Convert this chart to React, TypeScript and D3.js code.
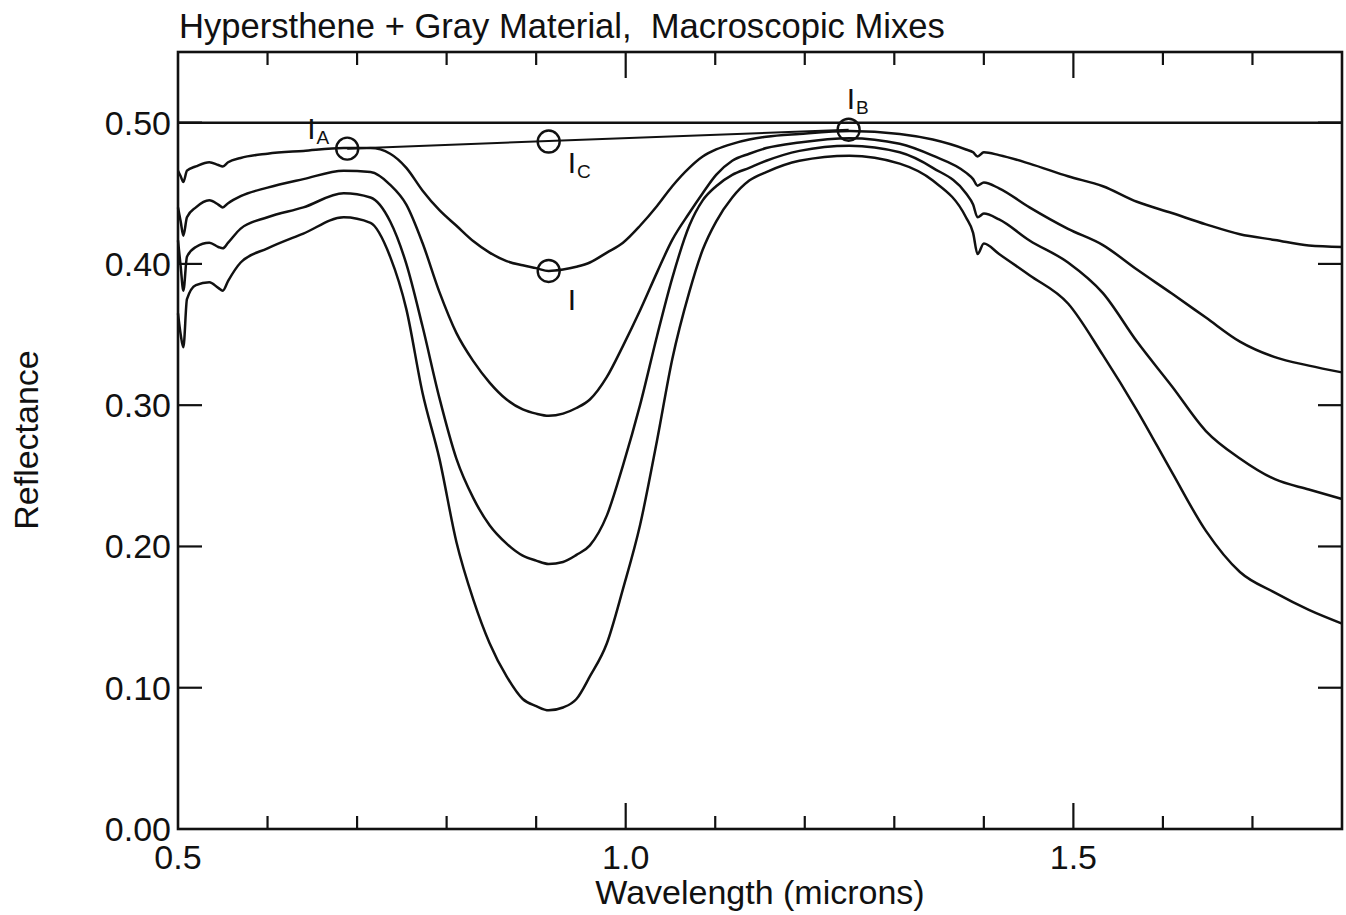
import * as d3 from "d3";

// wavelength grid (microns) shared by the four mixture spectra
const wavelengths = [
  0.5, 0.503, 0.506, 0.51, 0.52, 0.535, 0.545, 0.55, 0.556, 0.57, 0.6, 0.64, 0.685, 0.715,
  0.737, 0.755, 0.773, 0.792, 0.811, 0.83, 0.848, 0.867, 0.885, 0.9, 0.914, 0.93, 0.945,
  0.96, 0.979, 0.997, 1.016, 1.035, 1.052, 1.071, 1.086, 1.101, 1.119, 1.138, 1.157, 1.194,
  1.25, 1.306, 1.343, 1.38, 1.388, 1.393, 1.4, 1.417, 1.451, 1.494, 1.533, 1.571, 1.61,
  1.648, 1.686, 1.725, 1.763, 1.8,
];

const mixA = [
  0.466, 0.462, 0.458, 0.466, 0.469, 0.472, 0.47, 0.469, 0.472, 0.475, 0.478, 0.48, 0.482, 0.482,
  0.478, 0.468, 0.452, 0.438, 0.427, 0.416, 0.408, 0.402, 0.399, 0.397, 0.395, 0.396, 0.398,
  0.401, 0.408, 0.415, 0.427, 0.441, 0.455, 0.468, 0.476, 0.481, 0.485, 0.488, 0.49, 0.492,
  0.494, 0.492, 0.488, 0.481, 0.479, 0.476, 0.479, 0.477, 0.471, 0.462, 0.455, 0.444, 0.436,
  0.428, 0.421, 0.417, 0.413, 0.412,
];

const mixB = [
  0.44, 0.43, 0.42, 0.433, 0.44, 0.445, 0.442, 0.44, 0.443, 0.448, 0.454, 0.46, 0.466, 0.465,
  0.456, 0.442, 0.415, 0.38, 0.351, 0.331, 0.316, 0.304, 0.297, 0.294, 0.2925, 0.294, 0.298,
  0.304, 0.32, 0.342, 0.367, 0.394, 0.417, 0.436, 0.45, 0.463, 0.473, 0.478, 0.482, 0.486,
  0.489, 0.485, 0.4766, 0.4646, 0.46, 0.4554, 0.4576, 0.4535, 0.44, 0.4248, 0.4133, 0.396, 0.379,
  0.362, 0.345, 0.334, 0.328, 0.3232,
];

const mixC = [
  0.4166, 0.398, 0.381, 0.405, 0.412, 0.415, 0.412, 0.411, 0.415, 0.425, 0.433, 0.44, 0.45, 0.447,
  0.43, 0.4, 0.356, 0.305, 0.262, 0.234, 0.215, 0.202, 0.1935, 0.19, 0.1876, 0.189, 0.194,
  0.2008, 0.222, 0.2574, 0.3, 0.349, 0.39, 0.427, 0.445, 0.455, 0.463, 0.468, 0.473, 0.48,
  0.4837, 0.479, 0.468, 0.45, 0.442, 0.433, 0.4356, 0.4315, 0.4166, 0.401, 0.3793, 0.345, 0.3134,
  0.2817, 0.2623, 0.2476, 0.2403, 0.2336,
];

const mixD = [
  0.365, 0.35, 0.341, 0.375, 0.385, 0.387, 0.383, 0.381, 0.388, 0.401, 0.411, 0.4215, 0.433, 0.429,
  0.405, 0.368, 0.309, 0.262, 0.203, 0.162, 0.1315, 0.108, 0.092, 0.087, 0.084, 0.086, 0.092,
  0.108, 0.1315, 0.17, 0.215, 0.275, 0.3325, 0.38, 0.41, 0.43, 0.447, 0.459, 0.465, 0.473,
  0.4766, 0.471, 0.459, 0.433, 0.422, 0.407, 0.4144, 0.407, 0.392, 0.372, 0.3354, 0.2964, 0.2526,
  0.211, 0.1819, 0.1673, 0.1551, 0.1454,
];

const spectra = [mixA, mixB, mixC, mixD];

// band analysis points: label, subscript, wavelength, reflectance
const pointLabels = ["I", "I", "I", "I"];
const pointSubs = ["A", "C", "", "B"];
const pointWl = [0.689, 0.914, 0.914, 1.249];
const pointR = [0.4816, 0.4866, 0.395, 0.495];

const yTickValues = [0, 0.1, 0.2, 0.3, 0.4, 0.5];
const levelLine = 0.5;

const title = "Hypersthene + Gray Material,  Macroscopic Mixes";
const xTitle = "Wavelength (microns)";
const yTitle = "Reflectance";

export default function App() {
  const width = 1346;
  const height = 915;
  const margin = { top: 52, right: 4, bottom: 86, left: 178 };
  const font = "'Liberation Sans', Arial, Helvetica, sans-serif";
  const fs = 34;

  const x = d3.scaleLinear().domain([0.5, 1.8]).range([margin.left, width - margin.right]);
  const y = d3.scaleLinear().domain([0, 0.55]).range([height - margin.bottom, margin.top]);

  const line = d3
    .line<number>()
    .x((_, i) => x(wavelengths[i]))
    .y((d) => y(d))
    .curve(d3.curveMonotoneX);

  const xTicks = x.ticks(13).filter((t) => t > 0.5 + 1e-9 && t < 1.8 - 1e-9);
  const isMajor = (t: number) => Math.abs(t * 2 - Math.round(t * 2)) < 1e-6;
  const fmtX = d3.format(".1f");
  const fmtY = d3.format(".2f");

  const x0 = margin.left;
  const x1 = width - margin.right;
  const y0 = height - margin.bottom;
  const y1 = margin.top;
  const stroke = "#111";

  // continuum from I_A to I_B
  const contX = [pointWl[0], pointWl[3]];
  const contY = [pointR[0], pointR[3]];

  // label offsets relative to each circle (screen px)
  const labelDx = [-40, 19, 19, -2];
  const labelDy = [-10, 31, 39, -21];

  return (
    <svg
      width={width}
      height={height}
      style={{ position: "absolute", left: 0, top: 0, background: "#fff" }}
      fontFamily={font}
    >
      <text x={x0 + 1} y={38} fontSize={34.6} fill={stroke} xmlSpace="preserve">
        {title}
      </text>

      {/* spectra */}
      {spectra.map((s, i) => (
        <path key={i} d={line(s) || ""} fill="none" stroke={stroke} strokeWidth={2.5} strokeLinejoin="round" />
      ))}

      {/* 0.50 reference line and continuum */}
      <line x1={x0} x2={x1} y1={y(levelLine)} y2={y(levelLine)} stroke={stroke} strokeWidth={2.5} />
      <line x1={x(contX[0])} y1={y(contY[0])} x2={x(contX[1])} y2={y(contY[1])} stroke={stroke} strokeWidth={2} />

      {/* band points */}
      {pointWl.map((w, i) => {
        const cx = x(w);
        const cy = y(pointR[i]);
        return (
          <g key={i}>
            <circle cx={cx} cy={cy} r={11} fill="none" stroke={stroke} strokeWidth={2.4} />
            <text x={cx + labelDx[i]} y={cy + labelDy[i]} fontSize={30} fill={stroke}>
              {pointLabels[i]}
              {pointSubs[i] && (
                <tspan fontSize={19} dx={1} dy={5}>
                  {pointSubs[i]}
                </tspan>
              )}
            </text>
          </g>
        );
      })}

      {/* frame */}
      <rect x={x0} y={y1} width={x1 - x0} height={y0 - y1} fill="none" stroke={stroke} strokeWidth={2.6} />

      {/* x ticks top & bottom */}
      {xTicks.map((t) => {
        const len = isMajor(t) ? 26 : 13;
        return (
          <g key={t}>
            <line x1={x(t)} x2={x(t)} y1={y0} y2={y0 - len} stroke={stroke} strokeWidth={2.2} />
            <line x1={x(t)} x2={x(t)} y1={y1} y2={y1 + len} stroke={stroke} strokeWidth={2.2} />
          </g>
        );
      })}
      {x.ticks(13)
        .filter(isMajor)
        .filter((t) => t < 1.8 - 1e-9)
        .map((t) => (
          <text key={t} x={x(t)} y={869} textAnchor="middle" fontSize={fs} fill={stroke}>
            {fmtX(t)}
          </text>
        ))}

      {/* y ticks left & right */}
      {yTickValues.map((t) => (
        <g key={t}>
          {t > 0 && (
            <>
              <line x1={x0} x2={x0 + 24} y1={y(t)} y2={y(t)} stroke={stroke} strokeWidth={2.2} />
              <line x1={x1} x2={x1 - 24} y1={y(t)} y2={y(t)} stroke={stroke} strokeWidth={2.2} />
            </>
          )}
          <text x={171} y={y(t)} dy="0.35em" textAnchor="end" fontSize={fs} fill={stroke}>
            {fmtY(t)}
          </text>
        </g>
      ))}

      <text x={(x0 + x1) / 2} y={904} textAnchor="middle" fontSize={fs} fill={stroke}>
        {xTitle}
      </text>
      <text
        transform={`translate(38, 440) rotate(-90)`}
        textAnchor="middle"
        fontSize={fs}
        fill={stroke}
      >
        {yTitle}
      </text>
    </svg>
  );
}
